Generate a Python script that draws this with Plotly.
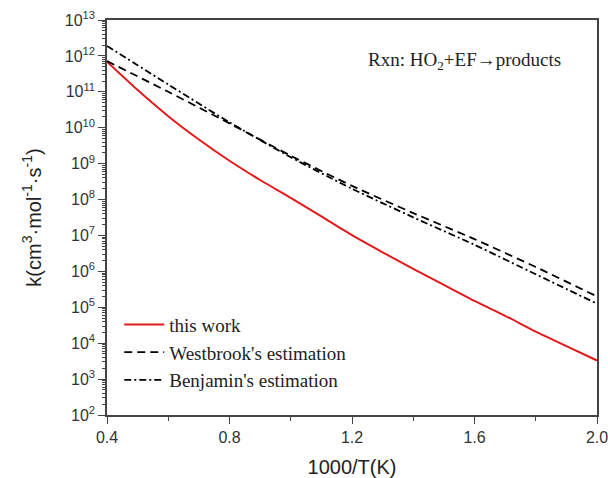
import plotly.graph_objects as go

# 1000/T grid (K^-1 * 1000)
x_fine = [0.4, 0.5, 0.6, 0.7, 0.8, 0.9, 1.0, 1.1, 1.2, 1.3, 1.4, 1.5, 1.6, 1.7, 1.8, 1.9, 2.0]
x_coarse = [0.4, 0.6, 0.8, 1.0, 1.2, 1.4, 1.6, 1.8, 2.0]

# rate constants, cm^3 mol^-1 s^-1
k_this_work = [6.9e11, 1.12e11, 2.1e10, 4.7e9, 1.2e9, 3.5e8, 1.12e8, 3.4e7, 1.02e7,
               3.4e6, 1.17e6, 4.2e5, 1.5e5, 5.8e4, 2.1e4, 8.3e3, 3.3e3]
k_westbrook = [7.2e11, 1.0e11, 1.32e10, 1.66e9, 2.4e8, 4.2e7, 7.9e6, 1.32e6, 2.0e5]
k_benjamin = [1.9e12, 1.6e11, 1.41e10, 1.51e9, 2.0e8, 3.2e7, 5.5e6, 8.3e5, 1.26e5]

series_names = ["this work", "Westbrook's estimation", "Benjamin's estimation"]

x_tick_vals = [0.4, 0.8, 1.2, 1.6, 2.0]
x_tick_text = ["0.4", "0.8", "1.2", "1.6", "2.0"]
y_exponents = list(range(2, 14))

fig = go.Figure()
fig.add_trace(go.Scatter(x=x_fine, y=k_this_work, mode="lines", name=series_names[0],
                         line=dict(color="#e31a1c", width=2, shape="spline", smoothing=0.6)))
fig.add_trace(go.Scatter(x=x_coarse, y=k_westbrook, mode="lines", name=series_names[1],
                         line=dict(color="black", width=1.8, dash="8px,5px",
                                   shape="spline", smoothing=0.6)))
fig.add_trace(go.Scatter(x=x_coarse, y=k_benjamin, mode="lines", name=series_names[2],
                         line=dict(color="black", width=1.8, dash="7px,3px,2px,3px",
                                   shape="spline", smoothing=0.6)))

axis_color = "#444444"
sans = "Liberation Sans, Arial, sans-serif"
serif = "Liberation Serif, Times New Roman, serif"
tick_font = dict(family=sans, size=16, color="#333333")

fig.update_xaxes(
    range=[0.4, 2.0], tickvals=x_tick_vals, ticktext=x_tick_text,
    ticks="outside", ticklen=7, tickwidth=1.2, tickcolor=axis_color,
    minor=dict(tickvals=[0.6, 1.0, 1.4, 1.8], ticks="outside", ticklen=4,
               tickwidth=1, tickcolor=axis_color),
    showline=True, linecolor=axis_color, linewidth=1.5, mirror=True,
    showgrid=False, zeroline=False, tickfont=tick_font, automargin=False,
    ticklabeloverflow="allow",
    title=dict(text="1000/T(K)", font=dict(family=sans, size=20, color="#222222"),
               standoff=16),
)
fig.update_yaxes(
    type="log", range=[2, 13],
    tickvals=[10 ** e for e in y_exponents],
    ticktext=["10<sup>%d</sup>" % e for e in y_exponents],
    ticks="outside", ticklen=7, tickwidth=1.2, tickcolor=axis_color,
    minor=dict(ticks="outside", ticklen=3, tickwidth=0.8, tickcolor=axis_color, dtick="D1"),
    showline=True, linecolor=axis_color, linewidth=1.5, mirror=True,
    showgrid=False, zeroline=False, tickfont=tick_font, automargin=False,
    ticklabeloverflow="allow",
    title=dict(text="k(cm<sup>3</sup>·mol<sup>-1</sup>·s<sup>-1</sup>)",
               font=dict(family=sans, size=20, color="#222222"), standoff=18),
)

fig.add_annotation(
    x=0.93, y=0.895, xref="paper", yref="paper", xanchor="right", yanchor="middle",
    text="Rxn: HO<sub>2</sub>+EF→products", showarrow=False,
    font=dict(family=serif, size=19, color="#222222"),
)

fig.update_layout(
    width=608, height=478,
    margin=dict(l=107, r=11, t=20, b=63),
    paper_bgcolor="white", plot_bgcolor="white",
    showlegend=True,
    legend=dict(x=0.025, y=0.277, xanchor="left", yanchor="top",
                bgcolor="rgba(0,0,0,0)", tracegroupgap=0, itemwidth=40,
                font=dict(family=serif, size=19, color="#222222")),
)

fig.write_html("out.html")
